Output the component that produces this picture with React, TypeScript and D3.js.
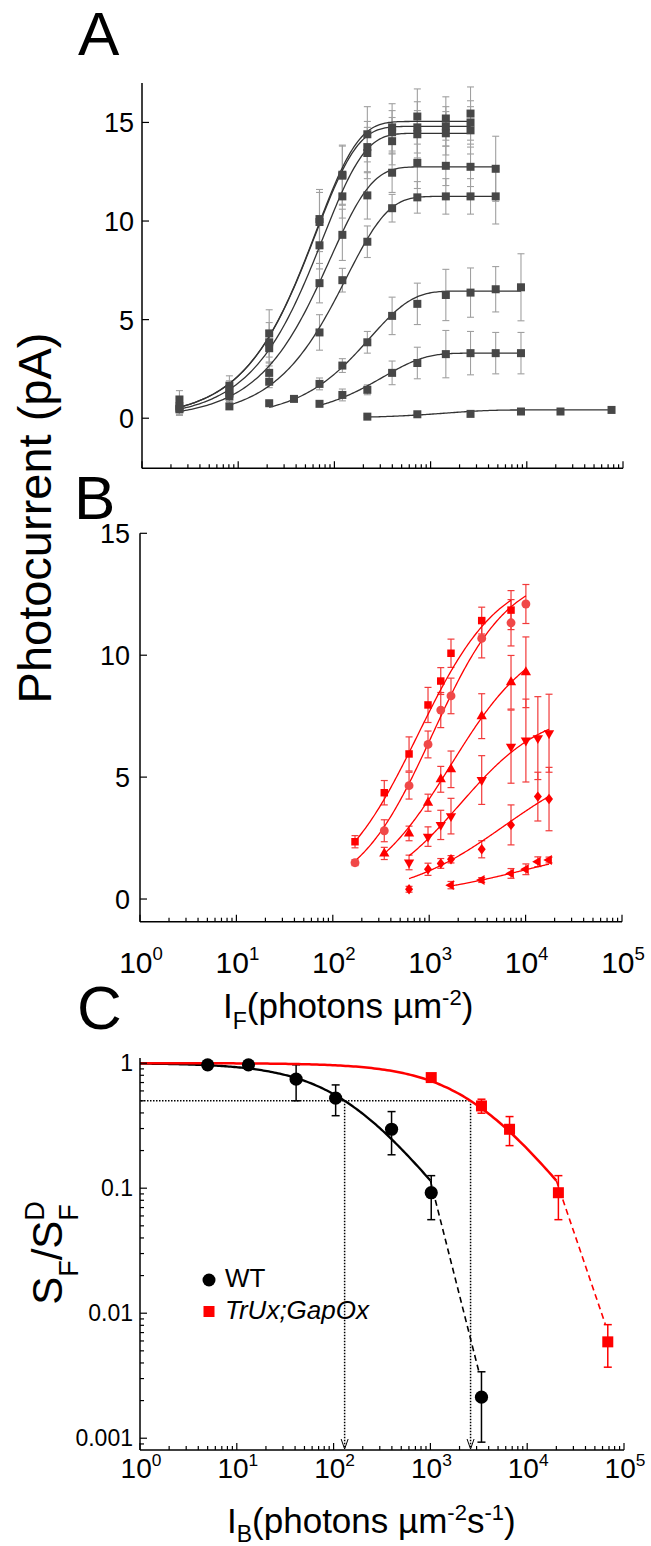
import * as d3 from "d3";
import { useEffect, useRef } from "react";

const FONT = "'Liberation Sans', Arial, Helvetica, sans-serif";

// ---------- Panel A (grey, photocurrent vs flash) ----------
const aFlash = [2.45, 8.1, 21, 38, 70, 121, 220, 398, 728, 1440, 2600, 4750, 8700, 22400, 76000];
const aS1 = [0.95, 1.65, 4.3, null, 10.1, 12.35, 14.4, 14.75, 15.3, 15.2, 15.45, null, null, null, null];
const aS1Err = [0.45, 0.5, 1.2, null, 1.5, 1.5, 1.4, 1.2, 1.4, 1.1, 1.35, null, null, null, null];
const aS2 = [0.6, 1.45, 3.85, null, 9.95, 12.3, 13.75, 14.5, 14.75, 14.8, 15.0, null, null, null, null];
const aS2Err = [0.4, 0.45, 1.0, null, 1.5, 1.5, 1.3, 1.1, 1.3, 1.0, 1.1, null, null, null, null];
const aS3 = [0.5, 1.25, 3.55, null, 8.77, 11.25, 13.45, 14.05, 14.4, 14.45, 14.6, null, null, null, null];
const aS3Err = [0.35, 0.4, 0.9, null, 1.2, 1.1, 1.3, 1.2, 1.2, 1.1, 1.2, null, null, null, null];
const aS4 = [0.45, 1.1, 2.3, null, 6.85, 9.3, 11.3, 12.45, 12.95, 12.8, 12.75, 12.65, null, null, null];
const aS4Err = [0.3, 0.35, 0.5, null, 1.0, 1.3, 1.2, 1.0, 1.3, 1.0, 1.0, 1.65, null, null, null];
const aS5 = [null, 0.6, 1.85, null, 4.35, 7.0, 8.95, 10.65, 11.2, 11.25, 11.25, 11.25, null, null, null];
const aS5Err = [null, 0.15, 0.3, null, 0.9, 0.6, 0.8, 0.7, 0.8, 0.9, 0.9, 1.4, null, null, null];
const aS6 = [null, null, 0.76, 0.98, 1.74, 2.67, 3.85, 5.19, 5.8, 6.25, 6.37, 6.54, 6.64, null, null];
const aS6Err = [null, null, 0.1, 0.1, 0.3, 0.35, 0.55, 0.95, 1.05, 1.3, 1.25, 1.15, 1.7, null, null];
const aS7 = [null, null, null, null, 0.73, 1.18, 1.44, 2.3, 2.8, 3.25, 3.3, 3.3, 3.3, null, null];
const aS7Err = [null, null, null, null, 0.1, 0.3, 0.25, 0.6, 0.8, 1.2, 1.1, 1.05, 1.05, null, null];
const aS8 = [null, null, null, null, null, null, 0.08, null, 0.2, null, 0.22, null, 0.34, 0.34, 0.42];
const aS8Err = [null, null, null, null, null, null, 0.05, null, 0.05, null, 0.05, null, 0.05, 0.05, 0.05];
// saturating-exponential fit: max and scale
const aFitMax = [15.05, 14.8, 14.45, 12.75, 11.25, 6.45, 3.3, 0.42];
const aFitScale = [65, 64, 76, 90, 133, 235, 320, 1500];

// ---------- Panel B (red, six symbols) ----------
const bFlash = [170, 342, 618, 972, 1318, 1683, 3505, 7060, 10070, 13400, 17500];
const bSquare = [2.35, 4.36, 5.95, 7.96, 8.94, 10.08, 11.42, 11.85, null, null, null];
const bSquareErr = [0.25, 0.5, 0.7, 0.72, 0.55, 0.58, 0.55, 0.8, null, null, null];
const bCircle = [1.49, 2.8, 4.65, 6.34, 7.75, 8.33, 10.69, 11.33, 12.1, null, null];
const bCircleErr = [0.12, 0.45, 0.55, 0.55, 0.72, 0.73, 0.8, 0.95, 0.8, null, null];
const bUp = [null, 1.87, 2.69, 3.95, 4.91, 5.32, 7.5, 8.89, 9.3, null, null];
const bUpErr = [null, 0.25, 0.3, 0.35, 0.53, 0.75, 0.92, 1.1, 1.45, null, null];
const bDown = [null, null, 1.5, 2.56, 3.04, 3.4, 4.88, 6.25, 6.5, 6.6, 6.8];
const bDownErr = [null, null, 0.3, 0.4, 0.6, 0.73, 1.0, 1.5, 1.7, 1.7, 1.6];
const bDiamond = [null, null, 0.4, 1.22, 1.46, 1.63, 2.04, 3.04, null, 4.2, 4.1];
const bDiamondErr = [null, null, 0.12, 0.25, 0.2, 0.15, 0.35, 0.82, null, 1.0, 1.3];
const bLeft = [null, null, null, null, null, 0.57, 0.78, 1.05, 1.22, 1.53, 1.6];
const bLeftErr = [null, null, null, null, null, 0.15, 0.1, 0.2, 0.22, 0.2, 0.12];
// Hill fit: max, half, slope
const bFitMax = [13.5, 13.5, 11, 7.8, 6, 2.4];
const bFitHalf = [766, 1080, 1680, 2100, 6000, 10000];
const bFitSlope = [1.03, 1.1, 1, 1, 0.8, 0.7];

// ---------- Panel C (sensitivity vs background) ----------
const wtBg = [5, 13.2, 41, 105, 397, 1020, 3370];
const wtSens = [0.97, 0.97, 0.745, 0.525, 0.296, 0.092, 0.00213];
const wtLo = [null, null, 0.5, 0.38, 0.185, 0.056, 0.00093];
const wtHi = [null, null, 0.97, 0.67, 0.41, 0.126, 0.0034];
const mutBg = [1020, 3370, 6570, 21000, 68000];
const mutSens = [0.767, 0.455, 0.296, 0.092, 0.0059];
const mutLo = [null, 0.398, 0.219, 0.056, 0.0037];
const mutHi = [null, 0.515, 0.374, 0.126, 0.0081];
const wtHalf = 130;
const mutHalf = 2600;
const wtTail = [[1000, null], [3170, 0.0034]];
const mutTail = [[20000, null], [64000, 0.0082]];

const logSpan = (a, b, n = 160) => d3.range(n + 1).map(i => a * Math.pow(b / a, i / n));

const addText = (g, x, y, s, size, anchor = "start") =>
  g.append("text")
    .attr("x", x).attr("y", y)
    .attr("font-family", FONT)
    .attr("font-size", size)
    .attr("text-anchor", anchor)
    .attr("fill", "#000")
    .text(s);

const pow10Label = (g, x, y, e, size) => {
  const t = g.append("text")
    .attr("x", x).attr("y", y)
    .attr("font-family", FONT).attr("font-size", size)
    .attr("text-anchor", "middle");
  t.append("tspan").text("10");
  t.append("tspan").attr("font-size", size * 0.62).attr("dy", -size * 0.42).text(String(e));
};

const drawLogXTicks = (g, x, yAxis) => {
  x.ticks().forEach(v => {
    const major = Math.abs(Math.log10(v) - Math.round(Math.log10(v))) < 1e-9;
    g.append("line")
      .attr("x1", x(v)).attr("x2", x(v))
      .attr("y1", yAxis).attr("y2", yAxis - (major ? 7 : 4))
      .attr("stroke", "#000").attr("stroke-width", 1.2);
  });
};

const errorBars = (g, pts, color, width = 1.2, cap = 7) => {
  pts.forEach(p => {
    g.append("line").attr("x1", p.x).attr("x2", p.x).attr("y1", p.y1).attr("y2", p.y2)
      .attr("stroke", color).attr("stroke-width", width);
    [p.y1, p.y2].forEach(yy => {
      g.append("line").attr("x1", p.x - cap / 2).attr("x2", p.x + cap / 2).attr("y1", yy).attr("y2", yy)
        .attr("stroke", color).attr("stroke-width", width);
    });
  });
};

const diamondPath = "M0,-5.2L4,0L0,5.2L-4,0Z";

const drawPanelA = svg => {
  const x = d3.scaleLog().domain([1, 1e5]).range([142, 623]);
  const y = d3.scaleLinear().domain([-2.54, 17]).range([468.3, 83]);
  const g = svg.append("g");
  const series = [aS1, aS2, aS3, aS4, aS5, aS6, aS7, aS8];
  const errs = [aS1Err, aS2Err, aS3Err, aS4Err, aS5Err, aS6Err, aS7Err, aS8Err];

  series.forEach((s, i) => {
    const pts = aFlash.map((f, j) => ({ f, v: s[j], e: errs[i][j] })).filter(p => p.v != null);
    errorBars(g, pts.map(p => ({ x: x(p.f), y1: y(p.v + p.e), y2: y(p.v - p.e) })), "#a0a0a0", 1.1, 7);
  });
  series.forEach((s, i) => {
    const pts = aFlash.filter((f, j) => s[j] != null);
    const xs = logSpan(pts[0], pts[pts.length - 1]);
    const line = d3.line().x(d => x(d)).y(d => y(aFitMax[i] * (1 - Math.exp(-d / aFitScale[i]))));
    g.append("path").attr("d", line(xs)).attr("fill", "none").attr("stroke", "#333").attr("stroke-width", 1.3);
  });
  series.forEach(s => {
    aFlash.forEach((f, j) => {
      if (s[j] == null) return;
      g.append("rect").attr("x", x(f) - 4).attr("y", y(s[j]) - 4).attr("width", 8).attr("height", 8)
        .attr("fill", "#474747");
    });
  });

  // axes
  g.append("line").attr("x1", 142).attr("x2", 142).attr("y1", 83).attr("y2", 468.3).attr("stroke", "#000").attr("stroke-width", 1.5);
  g.append("line").attr("x1", 142).attr("x2", 623).attr("y1", 468.3).attr("y2", 468.3).attr("stroke", "#000").attr("stroke-width", 1.5);
  drawLogXTicks(g, x, 468.3);
  [0, 5, 10, 15].forEach(v => {
    g.append("line").attr("x1", 142).attr("x2", 149).attr("y1", y(v)).attr("y2", y(v)).attr("stroke", "#000").attr("stroke-width", 1.2);
    addText(g, 134, y(v) + 10, String(v), 27, "end");
  });
  addText(g, 78, 55, "A", 62);
};

const drawPanelB = svg => {
  const x = d3.scaleLog().domain([1, 1e5]).range([140, 622]);
  const y = d3.scaleLinear().domain([-0.93, 15]).range([921.7, 533.3]);
  const g = svg.append("g");
  const series = [bSquare, bCircle, bUp, bDown, bDiamond, bLeft];
  const errs = [bSquareErr, bCircleErr, bUpErr, bDownErr, bDiamondErr, bLeftErr];
  const colors = ["#ff0000", "#f04848", "#ff0000", "#ff0000", "#ff0000", "#ff0000"];

  series.forEach((s, i) => {
    const pts = bFlash.map((f, j) => ({ f, v: s[j], e: errs[i][j] })).filter(p => p.v != null);
    errorBars(g, pts.map(p => ({ x: x(p.f), y1: y(p.v + p.e), y2: y(p.v - p.e) })), "#f23a3a", 1.2, 7);
  });
  series.forEach((s, i) => {
    const pts = bFlash.filter((f, j) => s[j] != null);
    const xs = logSpan(pts[0], pts[pts.length - 1]);
    const n = bFitSlope[i], K = bFitHalf[i];
    const line = d3.line().x(d => x(d)).y(d => y(bFitMax[i] * Math.pow(d, n) / (Math.pow(d, n) + Math.pow(K, n))));
    g.append("path").attr("d", line(xs)).attr("fill", "none").attr("stroke", "#ff0000").attr("stroke-width", 1.3);
  });
  const shapes = [
    { d: d3.symbol().type(d3.symbolSquare).size(56)(), r: 0 },
    { d: d3.symbol().type(d3.symbolCircle).size(62)(), r: 0 },
    { d: d3.symbol().type(d3.symbolTriangle).size(46)(), r: 0 },
    { d: d3.symbol().type(d3.symbolTriangle).size(46)(), r: 180 },
    { d: diamondPath, r: 0 },
    { d: d3.symbol().type(d3.symbolTriangle).size(42)(), r: -90 },
  ];
  series.forEach((s, i) => {
    bFlash.forEach((f, j) => {
      if (s[j] == null) return;
      g.append("path").attr("d", shapes[i].d)
        .attr("transform", `translate(${x(f)},${y(s[j])}) rotate(${shapes[i].r})`)
        .attr("fill", colors[i]);
    });
  });

  g.append("line").attr("x1", 140).attr("x2", 140).attr("y1", 533.3).attr("y2", 921.7).attr("stroke", "#000").attr("stroke-width", 1.5);
  g.append("line").attr("x1", 140).attr("x2", 622).attr("y1", 921.7).attr("y2", 921.7).attr("stroke", "#000").attr("stroke-width", 1.5);
  drawLogXTicks(g, x, 921.7);
  [0, 5, 10, 15].forEach(v => {
    g.append("line").attr("x1", 140).attr("x2", 147).attr("y1", y(v)).attr("y2", y(v)).attr("stroke", "#000").attr("stroke-width", 1.2);
    addText(g, 130, y(v) + 10, String(v), 27, "end");
  });
  d3.range(0, 6).forEach(e => pow10Label(g, x(Math.pow(10, e)) + 1, 973, e, 30));

  // x title
  const t = g.append("text").attr("x", 223).attr("y", 1018).attr("font-family", FONT).attr("font-size", 35);
  t.append("tspan").text("I");
  t.append("tspan").attr("font-size", 23).attr("dy", 11).text("F");
  t.append("tspan").attr("dy", -11).text("(photons µm");
  t.append("tspan").attr("font-size", 22).attr("dy", -13).text("-2");
  t.append("tspan").attr("dy", 13).text(")");

  addText(g, 74, 519, "B", 62);

  // shared y title for A and B
  g.append("text")
    .attr("transform", "translate(51,518) rotate(-90)")
    .attr("font-family", FONT).attr("font-size", 47)
    .attr("text-anchor", "middle")
    .text("Photocurrent (pA)");
};

const drawPanelC = svg => {
  const x = d3.scaleLog().domain([1, 1e5]).range([140, 624]);
  const y = d3.scaleLog().domain([8.05e-4, 1.1]).range([1450, 1058]);
  const g = svg.append("g");
  const wtFit = d => 1 / (1 + d / wtHalf);
  const mutFit = d => 1 / (1 + d / mutHalf);

  // dotted guides
  const dot = { stroke: "#000", w: 1.5, dash: "1.5 1.5" };
  g.append("line").attr("x1", 141).attr("x2", x(mutHalf)).attr("y1", y(0.5)).attr("y2", y(0.5))
    .attr("stroke", dot.stroke).attr("stroke-width", dot.w).attr("stroke-dasharray", dot.dash);
  [wtHalf, mutHalf].forEach(h => {
    g.append("line").attr("x1", x(h)).attr("x2", x(h)).attr("y1", y(0.5)).attr("y2", 1448)
      .attr("stroke", dot.stroke).attr("stroke-width", dot.w).attr("stroke-dasharray", dot.dash);
    g.append("path").attr("d", `M${x(h) - 3.5},1439L${x(h)},1449L${x(h) + 3.5},1439`)
      .attr("fill", "none").attr("stroke", "#000").attr("stroke-width", 1);
  });

  // error bars
  const wtErr = wtBg.map((b, i) => ({ b, lo: wtLo[i], hi: wtHi[i] })).filter(p => p.lo != null);
  errorBars(g, wtErr.map(p => ({ x: x(p.b), y1: y(p.hi), y2: y(p.lo) })), "#000", 1.5, 8);
  const mutErr = mutBg.map((b, i) => ({ b, lo: mutLo[i], hi: mutHi[i] })).filter(p => p.lo != null);
  errorBars(g, mutErr.map(p => ({ x: x(p.b), y1: y(p.hi), y2: y(p.lo) })), "#ff0000", 1.5, 8);

  // fits
  const line = d3.line().x(d => x(d[0])).y(d => y(d[1]));
  g.append("path").attr("d", line(logSpan(1, 1000).map(d => [d, wtFit(d)])))
    .attr("fill", "none").attr("stroke", "#000").attr("stroke-width", 2.3);
  g.append("path").attr("d", line(logSpan(1, 20000).map(d => [d, mutFit(d)])))
    .attr("fill", "none").attr("stroke", "#ff0000").attr("stroke-width", 2.5);
  g.append("path").attr("d", line([[wtTail[0][0], wtFit(wtTail[0][0])], wtTail[1]]))
    .attr("fill", "none").attr("stroke", "#000").attr("stroke-width", 1.6).attr("stroke-dasharray", "6 4");
  g.append("path").attr("d", line([[mutTail[0][0], mutFit(mutTail[0][0])], mutTail[1]]))
    .attr("fill", "none").attr("stroke", "#ff0000").attr("stroke-width", 1.6).attr("stroke-dasharray", "6 4");

  // markers
  wtBg.forEach((b, i) => {
    g.append("circle").attr("cx", x(b)).attr("cy", y(wtSens[i])).attr("r", 6.6).attr("fill", "#000");
  });
  mutBg.forEach((b, i) => {
    g.append("rect").attr("x", x(b) - 5.5).attr("y", y(mutSens[i]) - 5.5).attr("width", 11).attr("height", 11).attr("fill", "#ff0000");
  });

  // axes
  g.append("line").attr("x1", 140).attr("x2", 140).attr("y1", 1058).attr("y2", 1450).attr("stroke", "#000").attr("stroke-width", 1.5);
  g.append("line").attr("x1", 140).attr("x2", 624).attr("y1", 1450).attr("y2", 1450).attr("stroke", "#000").attr("stroke-width", 1.5);
  drawLogXTicks(g, x, 1450);
  y.ticks().forEach(v => {
    const major = Math.abs(Math.log10(v) - Math.round(Math.log10(v))) < 1e-9;
    g.append("line").attr("x1", 140).attr("x2", 140 + (major ? 7 : 4)).attr("y1", y(v)).attr("y2", y(v))
      .attr("stroke", "#000").attr("stroke-width", 1.2);
  });
  ["1", "0.1", "0.01", "0.001"].forEach((s, i) => addText(g, 133, y(Math.pow(10, -i)) + 8, s, 23, "end"));
  d3.range(0, 6).forEach(e => pow10Label(g, x(Math.pow(10, e)) + 1, 1478, e, 28));

  // titles
  const t = g.append("text").attr("x", 227).attr("y", 1533).attr("font-family", FONT).attr("font-size", 35);
  t.append("tspan").text("I");
  t.append("tspan").attr("font-size", 23).attr("dy", 9).text("B");
  t.append("tspan").attr("dy", -9).text("(photons µm");
  t.append("tspan").attr("font-size", 22).attr("dy", -13).text("-2");
  t.append("tspan").attr("dy", 13).text("s");
  t.append("tspan").attr("font-size", 22).attr("dy", -13).text("-1");
  t.append("tspan").attr("dy", 13).text(")");

  const yl = g.append("text").attr("transform", "translate(62,1253) rotate(-90)")
    .attr("font-family", FONT).attr("font-size", 42).attr("text-anchor", "middle");
  yl.append("tspan").text("S");
  yl.append("tspan").attr("font-size", 27).attr("dy", 16).text("F");
  yl.append("tspan").attr("dy", -16).text("/S");
  yl.append("tspan").attr("font-size", 27).attr("dy", 16).text("F");
  yl.append("tspan").attr("font-size", 27).attr("dx", -16.5).attr("dy", -34).text("D");

  // legend
  g.append("circle").attr("cx", 209).attr("cy", 1280).attr("r", 6.5).attr("fill", "#000");
  addText(g, 225, 1287, "WT", 26);
  g.append("rect").attr("x", 203.5).attr("y", 1306).attr("width", 11).attr("height", 11).attr("fill", "#ff0000");
  addText(g, 225, 1318.5, "TrUx;GapOx", 26).attr("font-style", "italic");

  addText(g, 77, 1029, "C", 62);
};

export default function App() {
  const ref = useRef(null);
  useEffect(() => {
    const svg = d3.select(ref.current);
    svg.selectAll("*").remove();
    drawPanelA(svg);
    drawPanelB(svg);
    drawPanelC(svg);
  }, []);
  return (
    <svg ref={ref} width={651} height={1546}
      style={{ position: "absolute", left: 0, top: 0, background: "#fff" }} />
  );
}
